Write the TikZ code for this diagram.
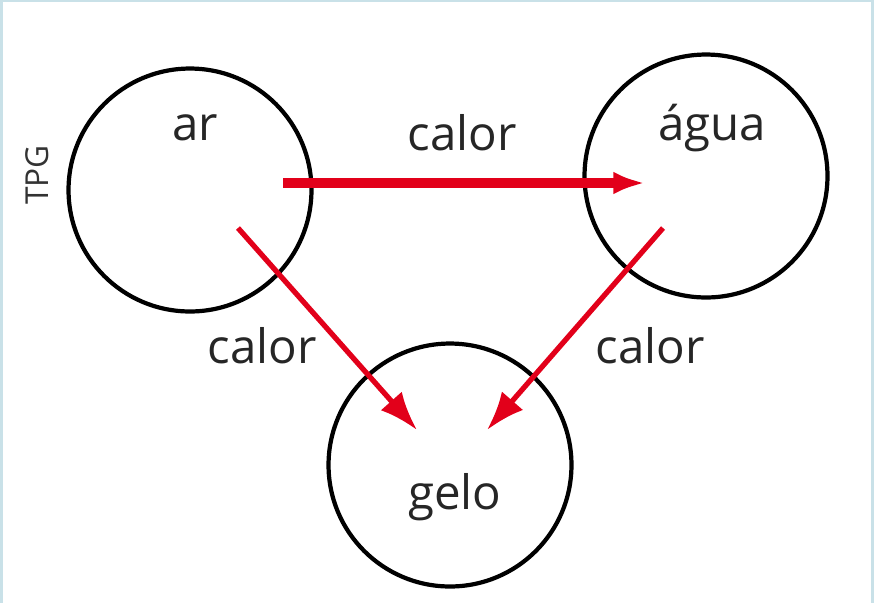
\documentclass[tikz,border=0pt]{standalone}
\usepackage{fontspec}
\setmainfont{Open Sans}
\usetikzlibrary{arrows.meta}
\usetikzlibrary{calc}
\definecolor{heat}{HTML}{E2001A}
\definecolor{frame}{HTML}{C9E1E8}

\begin{document}
\begin{tikzpicture}[
  x=0.02cm, y=-0.02cm,
  ball/.style={draw, circle, minimum size=4.86cm, line width=2.4pt},
  word/.style={text=black!85, font=\fontsize{27}{30}\selectfont},
  flow/.style={heat, line width=3pt, -{Latex[length=22pt, width=16pt]}},
  bigflow/.style={heat, line width=6pt, -{Latex[length=18pt, width=13pt]}}
]
% frame
\fill[frame] (0,0) rectangle (874,603);
\fill[white] (3,2) rectangle (871,603);
\useasboundingbox (0,0) rectangle (874,603);

\node[ball] (ar) at (190,190) {};
\node[ball] (agua) at (706,176) {};
\node[ball] (gelo) at (450,465) {};

\node[word] (tar) at (195,128) {ar};
\node[word] (tagua) at (712,128) {água};
\node[word] (tgelo) at (455,497) {gelo};

\node[word] (c1) at (462,133) {calor};
\node[word] (c2) at (262,346) {calor};
\node[word] (c3) at (650,346) {calor};

\node[rotate=90, text=black!80, font=\fontsize{18}{20}\selectfont] (tpg) at (37,175) {TPG};

\coordinate (a1) at ($(ar.center)+(93,-7)$);
\coordinate (a2) at ($(agua.center)+(-61,7)$);
\coordinate (b1) at ($(ar.center)+(48,38)$);
\coordinate (b2) at ($(gelo.center)+(-33,-35)$);
\coordinate (d1) at ($(agua.center)+(-43,52)$);
\coordinate (d2) at ($(gelo.center)+(37,-35)$);

\draw[bigflow] (a1) -- (a2);
\draw[flow] (b1) -- (b2);
\draw[flow] (d1) -- (d2);
\end{tikzpicture}
\end{document}
